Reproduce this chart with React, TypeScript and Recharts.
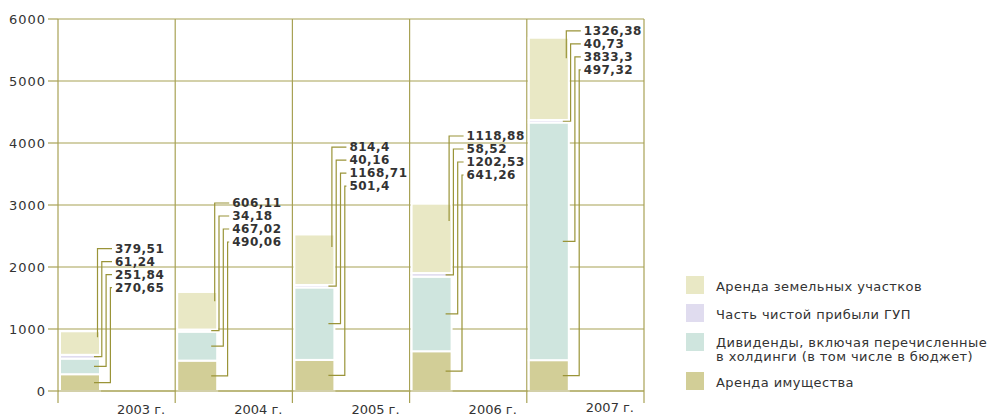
import React from 'react';
import { BarChart, Bar, XAxis, YAxis, CartesianGrid } from 'recharts';

// ---- data ----
const years = ['2003 г.', '2004 г.', '2005 г.', '2006 г.', '2007 г.'];
const propertyRent = [270.65, 490.06, 501.4, 641.26, 497.32];
const dividends = [251.84, 467.02, 1168.71, 1202.53, 3833.3];
const gupProfit = [61.24, 34.18, 40.16, 58.52, 40.73];
const landRent = [379.51, 606.11, 814.4, 1118.88, 1326.38];
// value (in chart units) at which each year's label block starts
const labelAnchor = [2297, 3032, 3935, 4113, 5807];
const yTicks = [0, 1000, 2000, 3000, 4000, 5000, 6000];

const seriesNames = {
  land: 'Аренда земельных участков',
  gup: 'Часть чистой прибыли ГУП',
  dividends: 'Дивиденды, включая перечисленные\nв холдинги (в том числе в бюджет)',
  property: 'Аренда имущества',
};

const COLORS = {
  land: '#e9e8c5',
  gup: '#e0dcef',
  dividends: '#cfe5de',
  property: '#d2ce97',
};
const GRID = '#a8a255';
const LEADER = '#9a9438';
const TEXT = '#333333';
const FONT = '"DejaVu Sans", sans-serif';

const data = years.map((year, i) => ({
  year,
  property: propertyRent[i],
  dividends: dividends[i],
  gup: gupProfit[i],
  land: landRent[i],
  dummy: 0,
}));

const fmt = (v: number) => String(v).replace('.', ',');

const SegShape = (props: any) => {
  const { x, y, width, height, fill } = props;
  if (!height || height <= 0) return null;
  return <rect x={x} y={y} width={width} height={height} fill={fill} stroke="#fff" strokeWidth={2} />;
};

const LandShape = (props: any) => {
  const { x, y, width, height, fill, payload } = props;
  if (!height || height <= 0 || !payload) return null;
  const idx = years.indexOf(payload.year);
  const k = height / payload.land;
  const below = payload.property + payload.dividends + payload.gup;
  const zeroY = y + height + below * k;
  const toPx = (v: number) => zeroY - v * k;
  const right = x + width;
  const labelX = right + 15;
  const row0 = toPx(labelAnchor[idx]);
  const rowH = 13;
  const items = [
    { value: payload.land, end: y + height * 0.25, foot: false },
    { value: payload.gup, end: toPx(payload.property + payload.dividends + payload.gup / 2), foot: true },
    { value: payload.dividends, end: toPx(payload.property + payload.dividends / 2), foot: true },
    { value: payload.property, end: toPx(payload.property / 2), foot: true },
  ];
  return (
    <g>
      <rect x={x} y={y} width={width} height={height} fill={fill} stroke="#fff" strokeWidth={2} />
      {items.map((it, i) => {
        const vx = right - 2.5 + 4.3 * i;
        const ry = row0 + i * rowH;
        let d = `M${labelX - 3},${ry} L${vx},${ry} L${vx},${it.end}`;
        if (it.foot) d += ` L${right - 6},${it.end}`;
        return (
          <g key={i}>
            <path d={d} fill="none" stroke={LEADER} strokeWidth={1.2} />
            <text
              x={labelX}
              y={ry}
              dominantBaseline="central"
              fontFamily={FONT}
              fontSize={12}
              fontWeight="bold"
              letterSpacing={0.5}
              fill={TEXT}
            >
              {fmt(it.value)}
            </text>
          </g>
        );
      })}
    </g>
  );
};

// category tick: year label right-aligned at the band's right edge, plus boundary tick marks
const YearTick = (props: any) => {
  const { x, y, payload, index, visibleTicksCount } = props;
  const half = payload.offset || 0;
  const rightX = x + half;
  const isLast = index === (visibleTicksCount ? visibleTicksCount - 1 : years.length - 1);
  return (
    <g>
      {index === 0 && <line x1={x - half} y1={y} x2={x - half} y2={y + 12} stroke={GRID} strokeWidth={1.2} />}
      <line x1={rightX} y1={y} x2={rightX} y2={y + 12} stroke={GRID} strokeWidth={1.2} />
      <text
        x={rightX - 10}
        y={y + (isLast ? 20.5 : 23)}
        textAnchor="end"
        fontFamily={FONT}
        fontSize={13}
        fill={TEXT}
      >
        {payload.value}
      </text>
    </g>
  );
};

const bandBoundaries = ({ offset }: any) => {
  const n = years.length;
  return Array.from({ length: n + 1 }, (_, i) => offset.left + (i * offset.width) / n);
};

const legendOrder: (keyof typeof COLORS)[] = ['land', 'gup', 'dividends', 'property'];
const legendTops = [276, 304, 333, 372];

const Legend = () => (
  <div style={{ position: 'absolute', left: 686, top: 0, fontFamily: FONT, fontSize: 13, color: TEXT, letterSpacing: 0.42 }}>
    {legendOrder.map((key, i) => {
      const lines = seriesNames[key].split('\n');
      return (
        <div key={key} style={{ position: 'absolute', top: legendTops[i], left: 0, display: 'flex', alignItems: 'flex-start', whiteSpace: 'nowrap' }}>
          <div style={{ width: 18, height: 18, background: COLORS[key], flex: 'none' }} />
          <div style={{ marginLeft: 12, lineHeight: '14px', marginTop: lines.length > 1 ? 3 : 4 }}>
            {lines.map((l, j) => (
              <div key={j}>{l}</div>
            ))}
          </div>
        </div>
      );
    })}
  </div>
);

export default function App() {
  return (
    <div style={{ position: 'absolute', left: 0, top: 0, width: 988, height: 414, background: '#fff', overflow: 'hidden' }}>
      <BarChart
        width={988}
        height={414}
        data={data}
        margin={{ top: 19, right: 344, bottom: 0, left: 0 }}
        barSize={40}
        barGap={33}
      >
        <CartesianGrid
          stroke={GRID}
          strokeWidth={1.2}
          verticalCoordinatesGenerator={bandBoundaries}
        />
        <XAxis
          dataKey="year"
          height={23}
          interval={0}
          tickSize={0}
          tickMargin={0}
          tickLine={false}
          axisLine={{ stroke: GRID, strokeWidth: 1.2 }}
          tick={<YearTick />}
        />
        <YAxis
          domain={[0, 6000]}
          ticks={yTicks}
          interval={0}
          width={58}
          tickSize={10}
          tickMargin={2}
          axisLine={false}
          tickLine={{ stroke: GRID, strokeWidth: 1.2 }}
          tick={{ fontFamily: FONT, fontSize: 13, fill: TEXT, letterSpacing: 1 }}
        />
        <Bar dataKey="property" stackId="a" fill={COLORS.property} shape={<SegShape />} isAnimationActive={false} />
        <Bar dataKey="dividends" stackId="a" fill={COLORS.dividends} shape={<SegShape />} isAnimationActive={false} />
        <Bar dataKey="gup" stackId="a" fill={COLORS.gup} shape={<SegShape />} isAnimationActive={false} />
        <Bar dataKey="land" stackId="a" fill={COLORS.land} shape={<LandShape />} isAnimationActive={false} />
        <Bar dataKey="dummy" stackId="b" fill="transparent" isAnimationActive={false} />
      </BarChart>
      <Legend />
    </div>
  );
}
